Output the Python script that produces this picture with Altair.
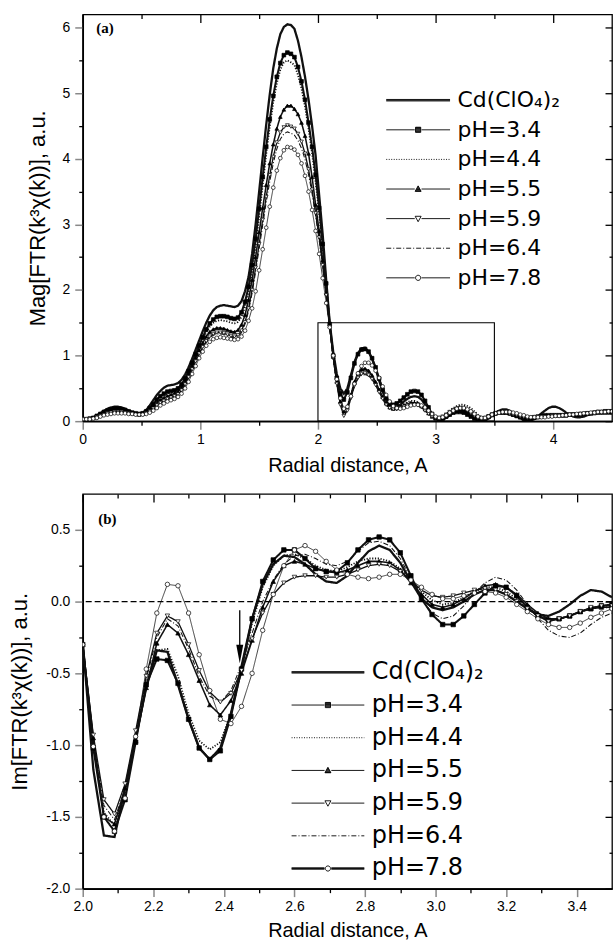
import altair as alt
import pandas as pd

# ---------------- data ----------------
names = ["Cd(ClO\u2084)\u2082", "pH=3.4", "pH=4.4", "pH=5.5", "pH=5.9", "pH=6.4", "pH=7.8"]
marker_series = ["pH=3.4", "pH=5.5", "pH=5.9", "pH=7.8"]
marker_shapes = ["square", "triangle-up", "triangle-down", "circle"]
marker_fills = ["black", "black", "white", "white"]

# panel (a): magnitude of FT, radial distance grid
r_a = [0.00, 0.03, 0.06, 0.09, 0.12, 0.15, 0.18, 0.21, 0.24, 0.27,
       0.30, 0.33, 0.36, 0.39, 0.42, 0.45, 0.48, 0.51, 0.54, 0.57,
       0.60, 0.63, 0.66, 0.69, 0.72, 0.75, 0.78, 0.81, 0.84, 0.87,
       0.90, 0.93, 0.96, 0.99, 1.02, 1.05, 1.08, 1.11, 1.14, 1.17,
       1.20, 1.23, 1.26, 1.29, 1.32, 1.35, 1.38, 1.41, 1.44, 1.47,
       1.50, 1.53, 1.56, 1.59, 1.62, 1.65, 1.68, 1.71, 1.74, 1.77,
       1.80, 1.83, 1.86, 1.89, 1.92, 1.95, 1.98, 2.01, 2.04, 2.07,
       2.10, 2.13, 2.16, 2.19, 2.22, 2.25, 2.28, 2.31, 2.34, 2.37,
       2.40, 2.43, 2.46, 2.49, 2.52, 2.55, 2.58, 2.61, 2.64, 2.67,
       2.70, 2.73, 2.76, 2.79, 2.82, 2.85, 2.88, 2.91, 2.94, 2.97,
       3.00, 3.03, 3.06, 3.09, 3.12, 3.15, 3.18, 3.21, 3.24, 3.27,
       3.30, 3.33, 3.36, 3.39, 3.42, 3.45, 3.48, 3.51, 3.54, 3.57,
       3.60, 3.63, 3.66, 3.69, 3.72, 3.75, 3.78, 3.81, 3.84, 3.87,
       3.90, 3.93, 3.96, 3.99, 4.02, 4.05, 4.08, 4.11, 4.14, 4.17,
       4.20, 4.23, 4.26, 4.29, 4.32, 4.35, 4.38, 4.41, 4.44, 4.47,
       4.50]

mag_cd = [0.03, 0.03, 0.04, 0.06, 0.09, 0.12, 0.16, 0.19, 0.21, 0.22,
          0.22, 0.21, 0.19, 0.16, 0.14, 0.12, 0.12, 0.13, 0.17, 0.24,
          0.32, 0.40, 0.46, 0.51, 0.54, 0.55, 0.56, 0.58, 0.63, 0.71,
          0.82, 0.95, 1.09, 1.23, 1.37, 1.50, 1.61, 1.69, 1.74, 1.76,
          1.77, 1.76, 1.75, 1.74, 1.76, 1.83, 1.98, 2.20, 2.55, 3.00,
          3.50, 4.02, 4.52, 4.98, 5.38, 5.68, 5.90, 6.01, 6.05, 6.04,
          5.98, 5.80, 5.55, 5.25, 4.90, 4.50, 4.05, 3.45, 2.85, 2.15,
          1.50, 1.05, 0.72, 0.50, 0.42, 0.50, 0.70, 0.90, 1.04, 1.11,
          1.12, 1.06, 0.95, 0.80, 0.62, 0.45, 0.32, 0.24, 0.21, 0.22,
          0.25, 0.30, 0.34, 0.37, 0.38, 0.37, 0.33, 0.26, 0.18, 0.10,
          0.05, 0.02, 0.02, 0.05, 0.09, 0.13, 0.15, 0.16, 0.16, 0.13,
          0.10, 0.06, 0.03, 0.01, 0.01, 0.04, 0.09, 0.13, 0.16, 0.18,
          0.18, 0.16, 0.13, 0.09, 0.05, 0.02, 0.01, 0.01, 0.03, 0.07,
          0.12, 0.16, 0.20, 0.22, 0.22, 0.20, 0.17, 0.13, 0.10, 0.07,
          0.06, 0.06, 0.07, 0.09, 0.11, 0.13, 0.14, 0.15, 0.15, 0.14,
          0.14]
mag_34 = [0.03, 0.03, 0.04, 0.05, 0.08, 0.11, 0.14, 0.16, 0.18, 0.19,
          0.19, 0.18, 0.17, 0.15, 0.13, 0.12, 0.11, 0.12, 0.15, 0.20,
          0.26, 0.33, 0.38, 0.42, 0.45, 0.46, 0.47, 0.50, 0.56, 0.65,
          0.76, 0.89, 1.02, 1.15, 1.28, 1.40, 1.49, 1.55, 1.59, 1.60,
          1.60, 1.59, 1.57, 1.56, 1.58, 1.66, 1.82, 2.05, 2.38, 2.78,
          3.24, 3.72, 4.18, 4.60, 4.96, 5.25, 5.46, 5.58, 5.62, 5.60,
          5.55, 5.40, 5.18, 4.90, 4.55, 4.18, 3.75, 3.25, 2.70, 2.10,
          1.48, 1.00, 0.66, 0.42, 0.33, 0.44, 0.66, 0.88, 1.02, 1.09,
          1.10, 1.06, 0.96, 0.82, 0.65, 0.48, 0.35, 0.27, 0.25, 0.27,
          0.31, 0.36, 0.41, 0.45, 0.46, 0.45, 0.40, 0.31, 0.21, 0.11,
          0.05, 0.03, 0.04, 0.07, 0.10, 0.13, 0.14, 0.14, 0.13, 0.10,
          0.07, 0.04, 0.02, 0.02, 0.04, 0.07, 0.10, 0.12, 0.13, 0.13,
          0.13, 0.12, 0.10, 0.08, 0.06, 0.04, 0.04, 0.05, 0.06, 0.07,
          0.08, 0.09, 0.09, 0.09, 0.09, 0.09, 0.09, 0.09, 0.10, 0.10,
          0.10, 0.11, 0.11, 0.12, 0.12, 0.13, 0.14, 0.14, 0.15, 0.15,
          0.15]
mag_44 = [0.03, 0.03, 0.04, 0.05, 0.07, 0.10, 0.12, 0.14, 0.16, 0.17,
          0.17, 0.16, 0.15, 0.14, 0.12, 0.11, 0.11, 0.12, 0.14, 0.18,
          0.23, 0.29, 0.34, 0.38, 0.41, 0.43, 0.44, 0.47, 0.53, 0.62,
          0.73, 0.86, 0.99, 1.12, 1.24, 1.35, 1.44, 1.50, 1.53, 1.54,
          1.53, 1.52, 1.50, 1.49, 1.51, 1.59, 1.74, 1.96, 2.28, 2.67,
          3.12, 3.60, 4.07, 4.49, 4.86, 5.15, 5.36, 5.47, 5.50, 5.47,
          5.43, 5.28, 5.07, 4.80, 4.46, 4.08, 3.65, 3.17, 2.64, 2.08,
          1.47, 0.98, 0.60, 0.32, 0.18, 0.22, 0.40, 0.58, 0.71, 0.77,
          0.78, 0.75, 0.68, 0.58, 0.47, 0.35, 0.25, 0.19, 0.17, 0.19,
          0.22, 0.26, 0.29, 0.31, 0.31, 0.29, 0.25, 0.19, 0.13, 0.07,
          0.04, 0.04, 0.07, 0.11, 0.16, 0.20, 0.23, 0.25, 0.25, 0.23,
          0.20, 0.15, 0.10, 0.06, 0.04, 0.05, 0.07, 0.10, 0.12, 0.13,
          0.13, 0.13, 0.12, 0.11, 0.09, 0.08, 0.07, 0.06, 0.06, 0.06,
          0.07, 0.07, 0.08, 0.08, 0.08, 0.08, 0.09, 0.09, 0.10, 0.10,
          0.11, 0.11, 0.12, 0.12, 0.13, 0.13, 0.13, 0.14, 0.14, 0.14,
          0.14]
mag_55 = [0.03, 0.03, 0.03, 0.05, 0.07, 0.09, 0.11, 0.13, 0.15, 0.15,
          0.16, 0.15, 0.14, 0.13, 0.12, 0.11, 0.10, 0.11, 0.13, 0.17,
          0.22, 0.27, 0.32, 0.35, 0.38, 0.40, 0.42, 0.45, 0.51, 0.60,
          0.71, 0.83, 0.96, 1.08, 1.19, 1.29, 1.36, 1.40, 1.42, 1.42,
          1.41, 1.39, 1.37, 1.36, 1.39, 1.47, 1.62, 1.85, 2.15, 2.50,
          2.88, 3.25, 3.60, 3.93, 4.22, 4.46, 4.64, 4.75, 4.81, 4.81,
          4.76, 4.68, 4.55, 4.35, 4.08, 3.72, 3.30, 2.90, 2.45, 1.95,
          1.45, 0.98, 0.60, 0.30, 0.15, 0.22, 0.40, 0.60, 0.73, 0.79,
          0.80, 0.77, 0.70, 0.60, 0.48, 0.37, 0.27, 0.21, 0.19, 0.20,
          0.22, 0.24, 0.26, 0.28, 0.28, 0.27, 0.23, 0.18, 0.12, 0.07,
          0.04, 0.04, 0.06, 0.09, 0.13, 0.16, 0.18, 0.18, 0.17, 0.14,
          0.10, 0.06, 0.03, 0.02, 0.03, 0.06, 0.09, 0.12, 0.13, 0.14,
          0.13, 0.12, 0.10, 0.08, 0.06, 0.05, 0.04, 0.04, 0.05, 0.06,
          0.07, 0.08, 0.08, 0.09, 0.09, 0.09, 0.09, 0.09, 0.10, 0.10,
          0.10, 0.11, 0.11, 0.12, 0.12, 0.12, 0.13, 0.13, 0.13, 0.13,
          0.13]
mag_59 = [0.03, 0.03, 0.03, 0.04, 0.06, 0.08, 0.10, 0.12, 0.13, 0.14,
          0.14, 0.14, 0.13, 0.12, 0.11, 0.10, 0.10, 0.10, 0.12, 0.15,
          0.19, 0.24, 0.28, 0.31, 0.34, 0.36, 0.38, 0.41, 0.47, 0.56,
          0.67, 0.79, 0.91, 1.03, 1.13, 1.22, 1.29, 1.33, 1.35, 1.35,
          1.34, 1.32, 1.30, 1.29, 1.31, 1.38, 1.51, 1.72, 2.00, 2.34,
          2.70, 3.07, 3.42, 3.75, 4.03, 4.25, 4.40, 4.48, 4.51, 4.49,
          4.46, 4.38, 4.26, 4.08, 3.84, 3.53, 3.17, 2.80, 2.38, 1.92,
          1.44, 0.97, 0.57, 0.25, 0.08, 0.16, 0.35, 0.54, 0.66, 0.72,
          0.73, 0.70, 0.64, 0.55, 0.44, 0.34, 0.25, 0.20, 0.18, 0.18,
          0.20, 0.22, 0.24, 0.25, 0.25, 0.24, 0.21, 0.16, 0.11, 0.07,
          0.05, 0.05, 0.07, 0.10, 0.14, 0.17, 0.19, 0.20, 0.19, 0.16,
          0.12, 0.08, 0.05, 0.04, 0.05, 0.07, 0.09, 0.11, 0.12, 0.12,
          0.12, 0.11, 0.10, 0.09, 0.07, 0.06, 0.05, 0.05, 0.05, 0.06,
          0.06, 0.07, 0.07, 0.08, 0.08, 0.08, 0.08, 0.09, 0.09, 0.10,
          0.10, 0.10, 0.11, 0.11, 0.12, 0.12, 0.12, 0.13, 0.13, 0.13,
          0.13]
mag_64 = [0.03, 0.03, 0.03, 0.04, 0.06, 0.08, 0.10, 0.11, 0.12, 0.13,
          0.13, 0.13, 0.12, 0.12, 0.11, 0.10, 0.10, 0.10, 0.11, 0.14,
          0.18, 0.23, 0.27, 0.30, 0.33, 0.35, 0.37, 0.40, 0.46, 0.55,
          0.66, 0.78, 0.90, 1.01, 1.11, 1.20, 1.27, 1.31, 1.33, 1.33,
          1.32, 1.30, 1.28, 1.27, 1.29, 1.35, 1.48, 1.68, 1.95, 2.28,
          2.63, 2.99, 3.34, 3.65, 3.93, 4.15, 4.30, 4.38, 4.41, 4.39,
          4.36, 4.28, 4.16, 3.99, 3.76, 3.47, 3.13, 2.76, 2.36, 1.91,
          1.44, 0.97, 0.58, 0.28, 0.12, 0.18, 0.35, 0.53, 0.65, 0.70,
          0.71, 0.69, 0.64, 0.56, 0.46, 0.36, 0.27, 0.21, 0.18, 0.18,
          0.20, 0.22, 0.24, 0.25, 0.25, 0.24, 0.21, 0.17, 0.12, 0.07,
          0.04, 0.04, 0.07, 0.11, 0.15, 0.18, 0.21, 0.22, 0.21, 0.18,
          0.14, 0.10, 0.06, 0.04, 0.04, 0.06, 0.08, 0.10, 0.12, 0.13,
          0.13, 0.12, 0.11, 0.10, 0.08, 0.07, 0.06, 0.05, 0.05, 0.05,
          0.06, 0.06, 0.07, 0.07, 0.08, 0.08, 0.08, 0.09, 0.09, 0.09,
          0.10, 0.10, 0.11, 0.11, 0.11, 0.12, 0.12, 0.12, 0.13, 0.13,
          0.13]
mag_78 = [0.03, 0.03, 0.03, 0.04, 0.05, 0.07, 0.09, 0.10, 0.11, 0.12,
          0.12, 0.12, 0.12, 0.11, 0.11, 0.10, 0.10, 0.10, 0.11, 0.13,
          0.16, 0.20, 0.24, 0.27, 0.30, 0.32, 0.34, 0.37, 0.42, 0.50,
          0.60, 0.72, 0.84, 0.96, 1.06, 1.15, 1.21, 1.25, 1.27, 1.28,
          1.27, 1.26, 1.25, 1.24, 1.25, 1.29, 1.38, 1.53, 1.72, 1.98,
          2.30, 2.62, 2.95, 3.27, 3.56, 3.82, 4.01, 4.13, 4.18, 4.17,
          4.14, 4.06, 3.93, 3.74, 3.50, 3.22, 2.90, 2.55, 2.18, 1.80,
          1.43, 1.00, 0.64, 0.35, 0.19, 0.22, 0.38, 0.57, 0.73, 0.84,
          0.89, 0.89, 0.85, 0.77, 0.66, 0.53, 0.40, 0.30, 0.23, 0.20,
          0.19, 0.20, 0.22, 0.24, 0.25, 0.25, 0.24, 0.21, 0.16, 0.11,
          0.07, 0.05, 0.06, 0.09, 0.13, 0.16, 0.19, 0.20, 0.20, 0.18,
          0.15, 0.11, 0.07, 0.05, 0.05, 0.07, 0.10, 0.12, 0.13, 0.14,
          0.14, 0.14, 0.13, 0.12, 0.10, 0.09, 0.07, 0.06, 0.06, 0.06,
          0.06, 0.06, 0.07, 0.07, 0.08, 0.08, 0.09, 0.09, 0.10, 0.10,
          0.11, 0.11, 0.12, 0.12, 0.13, 0.13, 0.14, 0.14, 0.14, 0.15,
          0.15]

# panel (b): imaginary part of FT
r_b = [2.00, 2.03, 2.06, 2.09, 2.12, 2.15, 2.18, 2.21, 2.24, 2.27,
       2.30, 2.33, 2.36, 2.39, 2.42, 2.45, 2.48, 2.51, 2.54, 2.57,
       2.60, 2.63, 2.66, 2.69, 2.72, 2.75, 2.78, 2.81, 2.84, 2.87,
       2.90, 2.93, 2.96, 2.99, 3.02, 3.05, 3.08, 3.11, 3.14, 3.17,
       3.20, 3.23, 3.26, 3.29, 3.32, 3.35, 3.38, 3.41, 3.44, 3.47,
       3.50]
im_cd = [-0.28, -1.17, -1.63, -1.64, -1.30, -0.95, -0.60, -0.34, -0.35, -0.58,
         -0.82, -1.02, -1.10, -1.02, -0.78, -0.45, -0.12, 0.12, 0.26, 0.32,
         0.31, 0.26, 0.19, 0.14, 0.13, 0.18, 0.27, 0.35, 0.39, 0.36,
         0.27, 0.14, 0.02, -0.04, -0.06, -0.04, 0.00, 0.05, 0.08, 0.08,
         0.05, 0.00, -0.05, -0.09, -0.10, -0.07, -0.02, 0.04, 0.08, 0.07,
         0.03]
im_34 = [-0.30, -1.02, -1.50, -1.60, -1.38, -0.98, -0.58, -0.40, -0.41, -0.57,
         -0.82, -1.02, -1.10, -1.04, -0.80, -0.47, -0.12, 0.14, 0.29, 0.36,
         0.36, 0.30, 0.23, 0.21, 0.21, 0.27, 0.36, 0.43, 0.45, 0.43,
         0.34, 0.18, 0.02, -0.09, -0.16, -0.16, -0.10, -0.02, 0.06, 0.11,
         0.10, 0.04, -0.04, -0.10, -0.13, -0.12, -0.10, -0.07, -0.05, -0.03,
         -0.02]
im_44 = [-0.30, -1.00, -1.47, -1.56, -1.33, -0.95, -0.57, -0.34, -0.33, -0.52,
         -0.78, -0.97, -1.03, -0.98, -0.78, -0.48, -0.15, 0.10, 0.25, 0.32,
         0.33, 0.30, 0.25, 0.22, 0.21, 0.24, 0.28, 0.30, 0.30, 0.28,
         0.23, 0.15, 0.07, 0.01, -0.02, -0.01, 0.03, 0.07, 0.10, 0.10,
         0.07, 0.02, -0.04, -0.09, -0.12, -0.12, -0.10, -0.07, -0.05, -0.04,
         -0.04]
im_55 = [-0.30, -0.95, -1.50, -1.55, -1.30, -0.97, -0.60, -0.29, -0.16, -0.22,
         -0.37, -0.55, -0.72, -0.79, -0.69, -0.50, -0.27, -0.04, 0.14, 0.25,
         0.28, 0.26, 0.23, 0.21, 0.20, 0.22, 0.25, 0.28, 0.28, 0.27,
         0.22, 0.13, 0.05, -0.02, -0.04, -0.02, 0.02, 0.07, 0.11, 0.12,
         0.10, 0.05, -0.02, -0.08, -0.12, -0.12, -0.10, -0.07, -0.05, -0.04,
         -0.04]
im_59 = [-0.30, -0.93, -1.38, -1.48, -1.27, -0.90, -0.52, -0.22, -0.10, -0.14,
         -0.30, -0.48, -0.63, -0.70, -0.64, -0.48, -0.26, -0.08, 0.05, 0.13,
         0.17, 0.18, 0.18, 0.17, 0.17, 0.19, 0.22, 0.25, 0.26, 0.25,
         0.21, 0.15, 0.08, 0.04, 0.03, 0.04, 0.06, 0.08, 0.09, 0.08,
         0.05, 0.00, -0.05, -0.10, -0.14, -0.12, -0.10, -0.07, -0.04, -0.03,
         -0.03]
im_64 = [-0.30, -0.95, -1.42, -1.52, -1.30, -0.92, -0.54, -0.25, -0.12, -0.17,
         -0.33, -0.52, -0.66, -0.70, -0.62, -0.44, -0.22, 0.00, 0.15, 0.26,
         0.32, 0.33, 0.30, 0.26, 0.25, 0.28, 0.35, 0.41, 0.42, 0.39,
         0.30, 0.16, 0.02, -0.08, -0.12, -0.10, -0.03, 0.06, 0.13, 0.17,
         0.15, 0.08, -0.02, -0.12, -0.20, -0.24, -0.25, -0.22, -0.16, -0.11,
         -0.08]
im_78 = [-0.30, -1.01, -1.50, -1.60, -1.37, -0.94, -0.47, -0.08, 0.12, 0.11,
         -0.08, -0.37, -0.62, -0.82, -0.85, -0.73, -0.50, -0.20, 0.05, 0.25,
         0.36, 0.39, 0.35, 0.28, 0.22, 0.19, 0.17, 0.16, 0.17, 0.19,
         0.19, 0.15, 0.10, 0.05, 0.02, 0.02, 0.04, 0.06, 0.07, 0.06,
         0.03, -0.02, -0.07, -0.12, -0.16, -0.18, -0.18, -0.15, -0.11, -0.08,
         -0.05]

# annotations
box_r0, box_r1, box_v0, box_v1 = [2.0], [3.5], [0.0], [1.5]
zero_level = [0.0]
arrow_r, arrow_tail, arrow_end, arrow_head = [2.445], [-0.06], [-0.34], [-0.365]
panel_a_label = (["(a)"], [0.19], [6.0])
panel_b_label = (["(b)"], [2.07], [0.575])

mag_all = [mag_cd, mag_34, mag_44, mag_55, mag_59, mag_64, mag_78]
im_all = [im_cd, im_34, im_44, im_55, im_59, im_64, im_78]
for s in mag_all:
    assert len(s) == len(r_a)
for s in im_all:
    assert len(s) == len(r_b)


def to_long(xs, series_list):
    rows = []
    for k, (nm, ys) in enumerate(zip(names, series_list)):
        for x, y in zip(xs, ys):
            rows.append({"r": x, "v": y, "series": nm, "k": k})
    return pd.DataFrame(rows)


df_a = to_long(r_a, mag_all)
df_b = to_long(r_b, im_all)

# ---------------- styles ----------------
DASH = [[1, 0], [1, 0], [1.2, 1.6], [1, 0], [1, 0], [5, 2, 1, 2], [1, 0]]
WIDTH_A = [2.3, 0.8, 0.8, 0.8, 0.8, 0.8, 0.8]
WIDTH_B = [2.3, 0.8, 0.8, 0.8, 0.8, 0.8, 1.8]
FONT = "Liberation Sans"
LEG_FONT = "DejaVu Sans"


def fmt(v):
    return f"{v:.4f}"


def pattern_path(W, pattern):
    u = 2.0 / W
    out, pos, i = "", 0.0, 0
    while pos < W:
        L = pattern[i % len(pattern)]
        if i % 2 == 0:
            end = min(pos + L, W)
            out += f"M{fmt(-1 + pos * u)},0H{fmt(-1 + end * u)}"
        pos += L
        i += 1
    return out


def legend_shapes(W, thick_last):
    u = 2.0 / W
    m = 2.6 * u
    g = m + 0.8 * u
    step = 0.8 * u

    def line(split, thick):
        offs = (-0.75, 0.0, 0.75) if thick else (0.0,)
        out = ""
        for d in offs:
            yy = fmt(d * u)
            if split:
                out += f"M-1,{yy}H{fmt(-g)}M{fmt(g)},{yy}H1"
            else:
                out += f"M-1,{yy}H1"
        return out

    def hatch(y0, y1, half):
        out, y = "", y0 + step / 2
        while y < y1:
            hw = half(y)
            out += f"M{fmt(-hw)},{fmt(y)}H{fmt(hw)}"
            y += step
        return out

    sq = f"M{fmt(-m)},{fmt(-m)}H{fmt(m)}V{fmt(m)}H{fmt(-m)}Z" + hatch(-m, m, lambda y: m)
    a, b, c = 1.2 * m, 0.9 * m, 1.15 * m
    tri_up = (f"M0,{fmt(-a)}L{fmt(c)},{fmt(b)}H{fmt(-c)}Z"
              + hatch(-a, b, lambda y: c * (y + a) / (a + b)))
    tri_dn = f"M0,{fmt(a)}L{fmt(c)},{fmt(-b)}H{fmt(-c)}Z"
    circ = (f"M{fmt(-m)},0A{fmt(m)},{fmt(m)} 0 1,0 {fmt(m)},0"
            f"A{fmt(m)},{fmt(m)} 0 1,0 {fmt(-m)},0Z")
    return [
        line(False, True),
        line(True, False) + sq,
        pattern_path(W, [1.0, 1.5]),
        line(True, False) + tri_up,
        line(True, False) + tri_dn,
        pattern_path(W, [5, 2, 1, 2]),
        line(True, thick_last) + circ,
    ]


def tick_axis(orient, values, size, offset=0):
    kw = dict(orient=orient, values=values, tickSize=size, labels=False,
              domain=False, grid=False, ticks=True, tickColor="black", tickWidth=1.3)
    if offset:
        kw["offset"] = offset
    return alt.Axis(**kw)


def panel(df, widths, xdom, ydom, W, H, xmaj, xmin, ymaj, ymin, xfmt_expr, yfmt_expr,
          ytitle, ytitle_x, xtitle_y, leg_w, leg_font, leg_x, leg_y, leg_clip, leg_row, msize,
          thick_last, label, extra_layers):
    sx = alt.Scale(domain=xdom, nice=False, zero=False)
    sy = alt.Scale(domain=ydom, nice=False, zero=False)

    main_x = alt.Axis(orient="bottom", values=xmaj, labelExpr=xfmt_expr, tickSize=8,
                      tickWidth=1.5, domainWidth=1.6, domainColor="black", labelFontSize=14,
                      labelPadding=3, labelFlush=False, labelOverlap=False,
                      titleFontSize=20, titleFontWeight="normal", titleY=xtitle_y,
                      titleBaseline="middle", grid=False, labelColor="black")
    main_y = alt.Axis(orient="left", values=ymaj, labelExpr=yfmt_expr, tickSize=8,
                      tickWidth=1.5, domainWidth=1.6, domainColor="black", labelFontSize=14,
                      labelPadding=5, labelOverlap=False, titleFontSize=22,
                      titleFontWeight="normal", titleX=ytitle_x, titleBaseline="middle",
                      grid=False, labelColor="black")

    lines = alt.Chart(df).mark_line(color="#111", clip=True).encode(
        x=alt.X("r:Q", scale=sx, axis=main_x, title="Radial distance, A"),
        y=alt.Y("v:Q", scale=sy, axis=main_y, title=ytitle),
        strokeDash=alt.StrokeDash("series:N", scale=alt.Scale(domain=names, range=DASH), legend=None),
        strokeWidth=alt.StrokeWidth("series:N", scale=alt.Scale(domain=names, range=widths), legend=None),
        order="r:Q",
    )

    points = alt.Chart(df).transform_filter(
        alt.FieldOneOfPredicate(field="series", oneOf=marker_series)
    ).mark_point(filled=True, stroke="black", strokeWidth=0.7, size=msize, opacity=1, clip=True).encode(
        x=alt.X("r:Q", scale=sx, axis=tick_axis("bottom", xmin, 4), title=None),
        y=alt.Y("v:Q", scale=sy, axis=tick_axis("left", ymin, 4), title=None),
        shape=alt.Shape("series:N", scale=alt.Scale(domain=marker_series, range=marker_shapes), legend=None),
        fill=alt.Fill("series:N", scale=alt.Scale(domain=marker_series, range=marker_fills), legend=None),
    )

    legend_layer = alt.Chart(df).transform_filter("datum.r < -100").mark_point(
        filled=False, stroke="black", strokeWidth=0.9, opacity=1
    ).encode(
        x=alt.X("r:Q", scale=sx, axis=tick_axis("bottom", xmin, 4, offset=-H), title=None),
        y=alt.Y("v:Q", scale=sy, axis=tick_axis("left", ymin, 3, offset=-W), title=None),
        shape=alt.Shape("series:N",
                        scale=alt.Scale(domain=names, range=legend_shapes(leg_w, thick_last)),
                        legend=alt.Legend(orient="none", legendX=leg_x, legendY=leg_y,
                                          title=None, labelFont=LEG_FONT, labelFontSize=leg_font,
                                          labelColor="black", symbolSize=leg_w * leg_w,
                                          clipHeight=leg_clip, rowPadding=leg_row, padding=0,
                                          labelOffset=7, labelLimit=400,
                                          symbolStrokeColor="black", symbolStrokeWidth=0.9,
                                          symbolFillColor="transparent")),
    )

    txt = alt.Chart(pd.DataFrame({"t": label[0], "r": label[1], "v": label[2]})).mark_text(
        font="Liberation Serif", fontWeight="bold", fontSize=15, color="black",
        align="center", baseline="middle"
    ).encode(
        x=alt.X("r:Q", scale=sx, axis=None),
        y=alt.Y("v:Q", scale=sy, axis=None),
        text="t:N",
    )

    layers = [lines, points, legend_layer, txt]
    for lay in extra_layers(sx, sy, tick_axis("bottom", xmaj, 8, offset=-H),
                            tick_axis("left", ymaj, 7, offset=-W)):
        layers.append(lay)

    return alt.layer(*layers).resolve_scale(
        shape="independent", fill="independent"
    ).resolve_axis(x="independent", y="independent").properties(width=W, height=H)


def extras_a(sx, sy, top_ax, right_ax):
    box = alt.Chart(pd.DataFrame({"r0": box_r0, "r1": box_r1, "v0": box_v0, "v1": box_v1})).mark_rect(
        fill=None, stroke="black", strokeWidth=1.1
    ).encode(
        x=alt.X("r0:Q", scale=sx, axis=top_ax, title=None), x2="r1:Q",
        y=alt.Y("v0:Q", scale=sy, axis=right_ax, title=None), y2="v1:Q",
    )
    return [box]


def extras_b(sx, sy, top_ax, right_ax):
    zero = alt.Chart(pd.DataFrame({"v": zero_level})).mark_rule(
        color="black", strokeDash=[6, 3], strokeWidth=1.2
    ).encode(y=alt.Y("v:Q", scale=sy, axis=right_ax, title=None))
    adf = pd.DataFrame({"r": arrow_r, "v0": arrow_tail, "v1": arrow_end, "vh": arrow_head})
    shaft = alt.Chart(adf).mark_rule(color="black", strokeWidth=1.3).encode(
        x=alt.X("r:Q", scale=sx, axis=top_ax, title=None),
        y=alt.Y("v0:Q", scale=sy, axis=None), y2="v1:Q",
    )
    head = alt.Chart(adf).mark_point(
        shape="M-0.38,-1L0.38,-1L0,1Z", filled=True, color="black", size=340, opacity=1
    ).encode(
        x=alt.X("r:Q", scale=sx, axis=None),
        y=alt.Y("vh:Q", scale=sy, axis=None),
    )
    return [zero, shaft, head]


fmt_int = "format(datum.value, 'd')"
fmt_1 = "datum.value < 0 ? '-' + format(-datum.value, '.1f') : format(datum.value, '.1f')"

W_PLOT = 531
chart_a = panel(df_a, WIDTH_A, [0, 4.5], [0, 6.2], W_PLOT, 408,
                [0, 1, 2, 3, 4], [0.5, 1.5, 2.5, 3.5],
                [0, 1, 2, 3, 4, 5, 6], [0.5, 1.5, 2.5, 3.5, 4.5, 5.5],
                fmt_int, fmt_int, "Mag[FTR(k\u00b3\u03c7(k))], a.u.", -45, 44,
                64, 22, 304, 74, 24, 5.7, 14, False, panel_a_label, extras_a)

chart_b = panel(df_b, WIDTH_B, [2.0, 3.5], [-2.0, 0.75], W_PLOT, 396,
                [2.0, 2.2, 2.4, 2.6, 2.8, 3.0, 3.2, 3.4], [2.1, 2.3, 2.5, 2.7, 2.9, 3.1, 3.3],
                [-2.0, -1.5, -1.0, -0.5, 0.0, 0.5], [-1.75, -1.25, -0.75, -0.25, 0.25],
                fmt_1, fmt_1, "Im[FTR(k\u00b3\u03c7(k))], a.u.", -63, 42,
                73, 24, 209, 166, 26, 6.8, 20, True, panel_b_label, extras_b)

chart = alt.vconcat(chart_a, chart_b, spacing=16).properties(
    padding={"left": 8, "top": 11, "right": 0, "bottom": 0}
).configure_view(stroke="black", strokeWidth=1.3).configure_axis(
    labelFont=FONT, titleFont=FONT, titleColor="black"
).configure_legend(labelFont=LEG_FONT)

chart.save("out.html", embed_options={"renderer": "svg", "actions": False})
